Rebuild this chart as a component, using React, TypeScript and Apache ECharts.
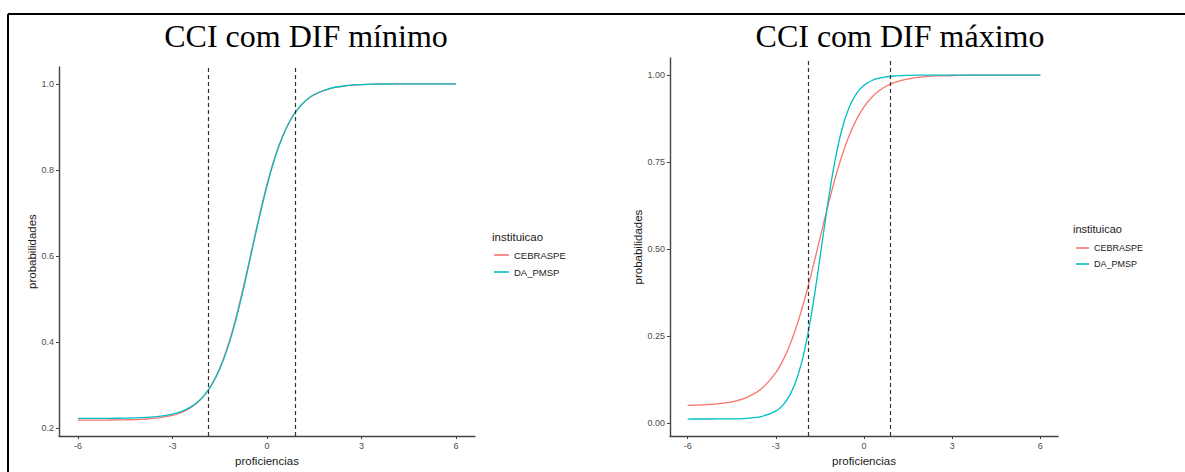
import React, { useEffect, useRef } from "react";
import * as echarts from "echarts";

// ---- data ----
const proficiencias = [
  -6, -5.5, -5, -4.5, -4, -3.5, -3, -2.75, -2.5, -2.25, -2, -1.75, -1.5, -1.25, -1, -0.75, -0.5, -0.25, 0, 0.25,
  0.5, 0.75, 1, 1.25, 1.5, 2, 2.5, 3, 3.5, 4, 4.5, 5, 5.5, 6,
];
const seriesNames = ["CEBRASPE", "DA_PMSP"];

const minCebraspe = [
  0.2181, 0.2182, 0.2184, 0.2189, 0.22, 0.2227, 0.229, 0.2347, 0.2433, 0.256, 0.2746, 0.3014, 0.3388, 0.3888,
  0.4521, 0.5271, 0.609, 0.6909, 0.7659, 0.8292, 0.8792, 0.9166, 0.9434, 0.962, 0.9747, 0.989, 0.9953, 0.998,
  0.9991, 0.9996, 0.9998, 0.9999, 1.0, 1.0,
];
const minDaPmsp = [
  0.2221, 0.2221, 0.2223, 0.2228, 0.2238, 0.2263, 0.2321, 0.2374, 0.2454, 0.2574, 0.2751, 0.3007, 0.3368, 0.3855,
  0.4478, 0.5223, 0.6044, 0.6869, 0.763, 0.8275, 0.8783, 0.9164, 0.9434, 0.9623, 0.975, 0.9892, 0.9954, 0.9981,
  0.9992, 0.9997, 0.9999, 0.9999, 1.0, 1.0,
];
const maxCebraspe = [
  0.0513, 0.0526, 0.0555, 0.0614, 0.0736, 0.0981, 0.1454, 0.182, 0.2299, 0.29, 0.3621, 0.4437, 0.5306, 0.6172,
  0.6978, 0.7684, 0.8269, 0.8733, 0.9086, 0.9349, 0.954, 0.9678, 0.9775, 0.9843, 0.9891, 0.9948, 0.9975, 0.9988,
  0.9994, 0.9997, 0.9999, 0.9999, 1.0, 1.0,
];
const maxDaPmsp = [
  0.012, 0.0121, 0.0122, 0.0126, 0.0141, 0.019, 0.0348, 0.0529, 0.0842, 0.1364, 0.2178, 0.3327, 0.4739, 0.6206,
  0.7486, 0.8444, 0.9083, 0.9476, 0.9706, 0.9837, 0.991, 0.995, 0.9973, 0.9985, 0.9992, 0.9998, 0.9999, 1.0, 1.0,
  1.0, 1.0, 1.0, 1.0, 1.0,
];

const cutLines = [-1.88, 0.9];
const xTicks = [-6, -3, 0, 3, 6];
const yTicksMin = [0.2, 0.4, 0.6, 0.8, 1.0];
const yTicksMax = [0, 0.25, 0.5, 0.75, 1.0];
const titles = ["CCI com DIF mínimo", "CCI com DIF máximo"];
const legendTitle = "instituicao";
const xName = "proficiencias";
const yName = "probabilidades";

const COLORS = ["#F8766D", "#00BFC4"];
const SANS = '"Liberation Sans", Arial, sans-serif';
const SERIF = '"Liberation Serif", "Times New Roman", serif';

const pairs = (ys: number[]) => proficiencias.map((x, i) => [x, ys[i]]);

export default function App() {
  const ref = useRef<HTMLDivElement>(null);

  useEffect(() => {
    if (!ref.current) return;
    const chart = echarts.init(ref.current, undefined, { renderer: "svg" });

    const xAxisBase = (gridIndex: number, nameGap: number) => ({
      type: "value",
      gridIndex,
      min: -6.6,
      max: 6.6,
      name: xName,
      nameLocation: "middle",
      nameGap,
      nameTextStyle: { fontFamily: SANS, fontSize: 11.5, color: "#1a1a1a" },
      splitLine: { show: false },
      axisLine: { show: true, onZero: false, lineStyle: { color: "#444", width: 1.4 } },
      axisTick: { show: true, length: 3, customValues: xTicks, lineStyle: { color: "#444", width: 1 } },
      axisLabel: {
        customValues: xTicks,
        formatter: (v: number) => String(v),
        fontFamily: SANS,
        fontSize: 9,
        color: "#4d4d4d",
        margin: 5,
      },
    });

    const yAxisBase = (
      gridIndex: number,
      min: number,
      max: number,
      ticks: number[],
      digits: number,
      nameGap: number
    ) => ({
      type: "value",
      gridIndex,
      min,
      max,
      name: yName,
      nameLocation: "middle",
      nameGap,
      nameRotate: 90,
      nameTextStyle: { fontFamily: SANS, fontSize: 11.5, color: "#1a1a1a" },
      splitLine: { show: false },
      axisLine: { show: true, onZero: false, lineStyle: { color: "#444", width: 1.4 } },
      axisTick: { show: true, length: 3, customValues: ticks, lineStyle: { color: "#444", width: 1 } },
      axisLabel: {
        customValues: ticks,
        formatter: (v: number) => v.toFixed(digits),
        fontFamily: SANS,
        fontSize: 9,
        color: "#4d4d4d",
        margin: 5,
      },
    });

    const markLine = {
      symbol: ["none", "none"],
      silent: true,
      label: { show: false },
      lineStyle: { type: [4, 3], color: "#333", width: 1.2 },
      data: cutLines.map((v) => ({ xAxis: v })),
    };

    const lineSeries = (name: string, data: number[], idx: number, color: string, withMark: boolean) => ({
      type: "line",
      name,
      xAxisIndex: idx,
      yAxisIndex: idx,
      data: pairs(data),
      showSymbol: false,
      symbol: "none",
      smooth: 0.3,
      lineStyle: { color, width: 1.3 },
      itemStyle: { color },
      ...(withMark ? { markLine } : {}),
    });

    const legendBase = (left: number, top: number, w: number, gap: number, fs: number) => ({
      data: seriesNames,
      orient: "vertical",
      left,
      top,
      padding: 0,
      icon: "rect",
      itemWidth: w,
      itemHeight: 1.6,
      itemGap: gap,
      selectedMode: false,
      textStyle: { fontFamily: SANS, fontSize: fs, color: "#1a1a1a", lineHeight: 12 },
    });

    chart.setOption({
      animation: false,
      backgroundColor: "#ffffff",
      grid: [
        { left: 59, top: 67, width: 416, height: 379 },
        { left: 670, top: 58, width: 388, height: 380 },
      ],
      xAxis: [xAxisBase(0, 14), xAxisBase(1, 14)],
      yAxis: [
        yAxisBase(0, 0.181, 1.039, yTicksMin, 1, 21),
        yAxisBase(1, -0.037, 1.049, yTicksMax, 2, 25),
      ],
      legend: [legendBase(494, 249, 15, 5, 9.5), legendBase(1076, 242, 13, 4, 9)],
      series: [
        lineSeries(seriesNames[0], minCebraspe, 0, COLORS[0], true),
        lineSeries(seriesNames[1], minDaPmsp, 0, COLORS[1], false),
        lineSeries(seriesNames[0], maxCebraspe, 1, COLORS[0], true),
        lineSeries(seriesNames[1], maxDaPmsp, 1, COLORS[1], false),
      ],
      graphic: [
        { type: "line", shape: { x1: 8, y1: 14, x2: 1185, y2: 14 }, style: { stroke: "#000", lineWidth: 2 } },
        { type: "line", shape: { x1: 8, y1: 14, x2: 8, y2: 472 }, style: { stroke: "#000", lineWidth: 2 } },
        {
          type: "text",
          x: 306,
          y: 36,
          style: { text: titles[0], font: `32px ${SERIF}`, fill: "#000", align: "center", verticalAlign: "middle" },
        },
        {
          type: "text",
          x: 900,
          y: 36,
          style: { text: titles[1], font: `32px ${SERIF}`, fill: "#000", align: "center", verticalAlign: "middle" },
        },
        {
          type: "text",
          x: 492,
          y: 237,
          style: { text: legendTitle, font: `11.5px ${SANS}`, fill: "#1a1a1a", align: "left", verticalAlign: "middle" },
        },
        {
          type: "text",
          x: 1073,
          y: 229,
          style: { text: legendTitle, font: `11px ${SANS}`, fill: "#1a1a1a", align: "left", verticalAlign: "middle" },
        },
      ],
    });

    return () => chart.dispose();
  }, []);

  return (
    <div
      ref={ref}
      style={{ position: "absolute", left: 0, top: 0, width: 1185, height: 472, background: "#fff" }}
    />
  );
}
